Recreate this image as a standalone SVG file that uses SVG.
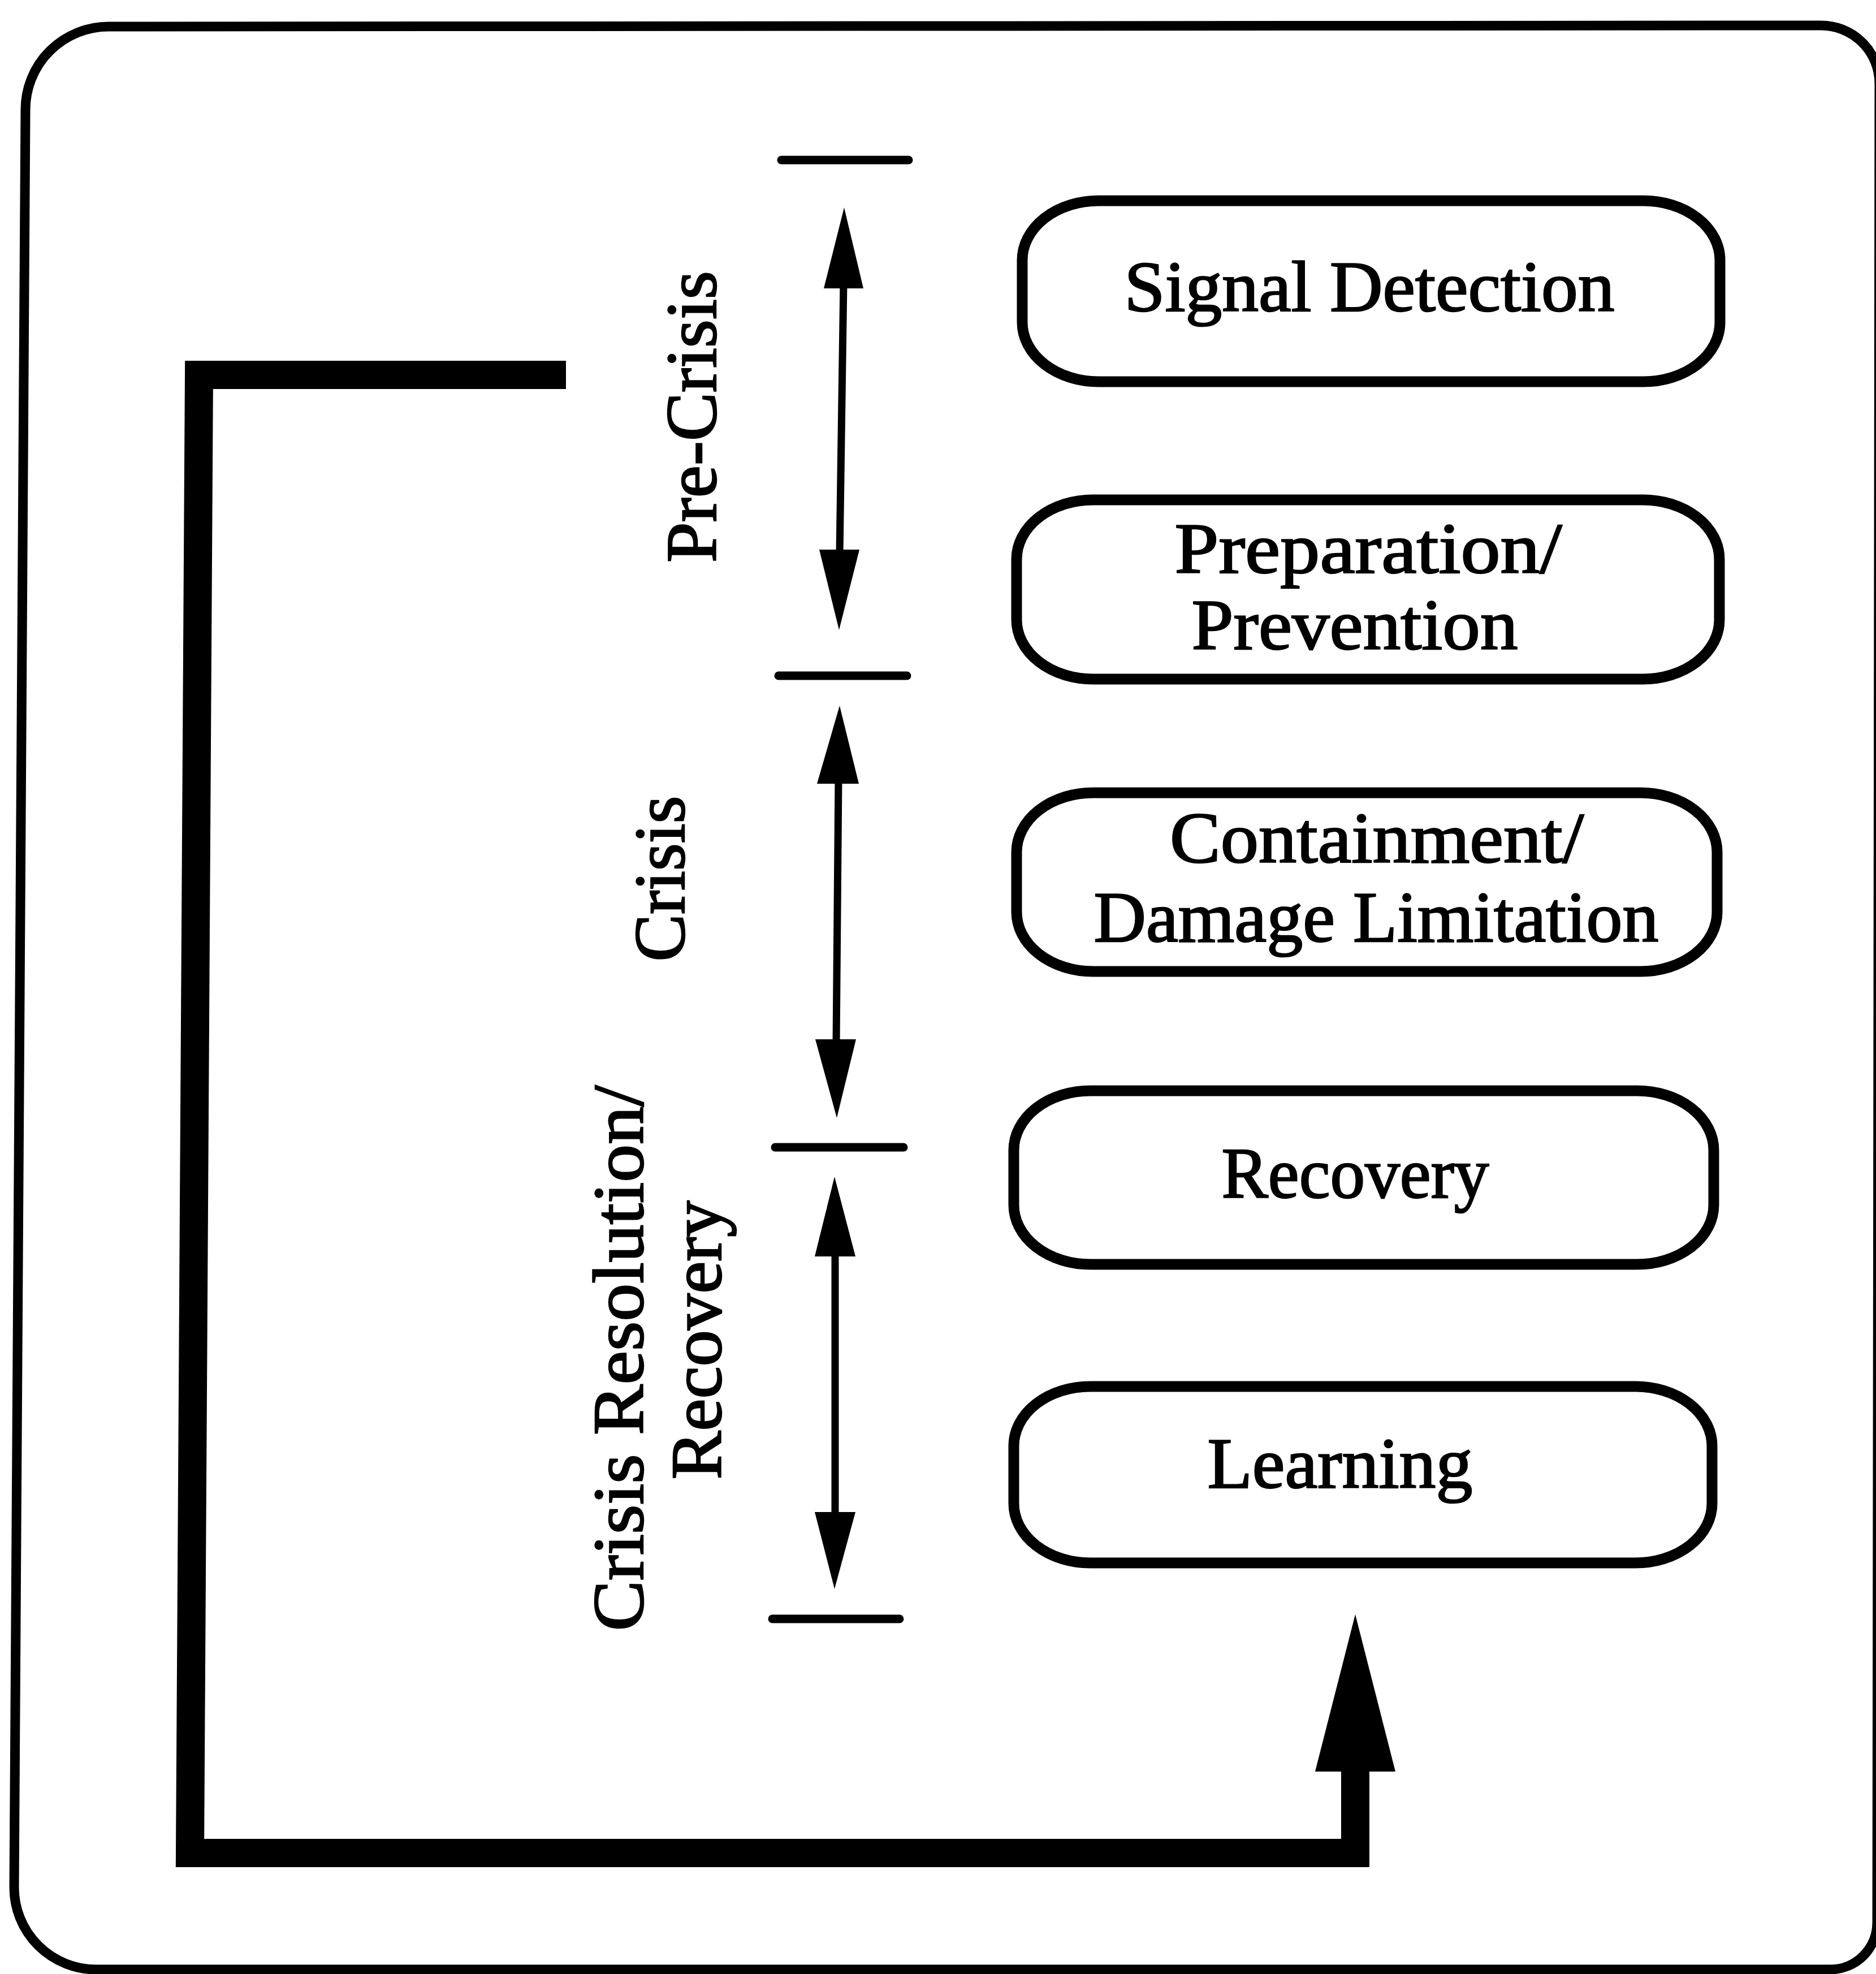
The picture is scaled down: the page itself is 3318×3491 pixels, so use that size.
<svg xmlns="http://www.w3.org/2000/svg" width="3318" height="3491" viewBox="0 0 3318 3491">
  <style>
    .frame { fill: none; stroke: #000; stroke-width: 17; }
    .box { fill: #fff; stroke: #000; stroke-width: 19; }
    .lbl { font-family: "Liberation Serif", "Times New Roman", serif; font-size: 126px; fill: #000; stroke: #000; stroke-width: 2.5; text-anchor: middle; }
    .tick { stroke: #000; stroke-width: 15; stroke-linecap: round; }
    .shaft { stroke: #000; stroke-width: 13; fill: none; }
    .head { fill: #000; }
    .loop { fill: none; stroke: #000; stroke-width: 50; stroke-linejoin: miter; stroke-linecap: butt; }
  </style>

  <rect width="3318" height="3491" fill="#fff"/>

  <!-- outer border -->
  <path class="frame" d="M 192,47 L 3221,45 A 103,103 0 0 1 3324,148 L 3320,3400 A 83,83 0 0 1 3237,3483 L 170,3483 A 145,145 0 0 1 25,3338 L 45,194 A 147,147 0 0 1 192,47 Z"/>

  <!-- phase nodes -->
  <g id="node-signal-detection">
    <rect class="box" x="1808" y="355" width="1234" height="320" rx="135" ry="105"/>
    <text class="lbl" x="2422" y="550" textLength="867" lengthAdjust="spacingAndGlyphs">Signal Detection</text>
  </g>
  <g id="node-preparation">
    <rect class="box" x="1798" y="884" width="1243" height="317" rx="135" ry="105"/>
    <text class="lbl" x="2420" y="1013" textLength="685" lengthAdjust="spacingAndGlyphs">Preparation/</text>
    <text class="lbl" x="2396" y="1148" textLength="577" lengthAdjust="spacingAndGlyphs">Prevention</text>
  </g>
  <g id="node-containment">
    <rect class="box" x="1798" y="1402" width="1239" height="316" rx="135" ry="105"/>
    <text class="lbl" x="2435" y="1525" textLength="732" lengthAdjust="spacingAndGlyphs">Containment/</text>
    <text class="lbl" x="2434" y="1665" textLength="999" lengthAdjust="spacingAndGlyphs">Damage Limitation</text>
  </g>
  <g id="node-recovery">
    <rect class="box" x="1793" y="1929" width="1238" height="307" rx="135" ry="105"/>
    <text class="lbl" x="2397" y="2118" textLength="473" lengthAdjust="spacingAndGlyphs">Recovery</text>
  </g>
  <g id="node-learning">
    <rect class="box" x="1793" y="2452" width="1235" height="312" rx="135" ry="105"/>
    <text class="lbl" x="2370" y="2631" textLength="469" lengthAdjust="spacingAndGlyphs">Learning</text>
  </g>

  <!-- stage labels (vertical) -->
  <g id="stage-pre-crisis">
    <text class="lbl" transform="translate(1266,737) rotate(-90)" textLength="516" lengthAdjust="spacingAndGlyphs">Pre-Crisis</text>
  </g>
  <g id="stage-crisis">
    <text class="lbl" transform="translate(1210,1554) rotate(-90)" textLength="293" lengthAdjust="spacingAndGlyphs">Crisis</text>
  </g>
  <g id="stage-resolution">
    <text class="lbl" transform="translate(1137,2402) rotate(-90)" textLength="965" lengthAdjust="spacingAndGlyphs">Crisis Resolution/</text>
    <text class="lbl" transform="translate(1275,2370) rotate(-90)" textLength="493" lengthAdjust="spacingAndGlyphs">Recovery</text>
  </g>

  <!-- stage boundaries and spans -->
  <g id="connectors">
    <line class="tick" x1="1382" y1="283" x2="1607" y2="283"/>
    <line class="tick" x1="1377" y1="1195" x2="1604" y2="1195"/>
    <line class="tick" x1="1371" y1="2029" x2="1598" y2="2029"/>
    <line class="tick" x1="1366" y1="2863" x2="1591" y2="2863"/>

    <!-- pre-crisis span -->
    <line class="shaft" x1="1492" y1="500" x2="1485" y2="980"/>
    <polygon class="head" points="1493,367 1527,510 1457,510"/>
    <polygon class="head" points="1484,1114 1449,972 1520,972"/>

    <!-- crisis span -->
    <line class="shaft" x1="1483" y1="1378" x2="1479" y2="1846"/>
    <polygon class="head" points="1485,1248 1519,1386 1445,1386"/>
    <polygon class="head" points="1480,1977 1442,1838 1514,1838"/>

    <!-- resolution span -->
    <line class="shaft" x1="1477" y1="2214" x2="1477" y2="2682"/>
    <polygon class="head" points="1476,2081 1513,2222 1441,2222"/>
    <polygon class="head" points="1476,2810 1441,2674 1513,2674"/>

    <!-- learning feedback loop -->
    <path class="loop" d="M 1001,663 L 352,663 L 336,3277 L 2397,3277 L 2397,3120"/>
    <polygon class="head" points="2397,2855 2468,3133 2326,3133"/>
  </g>
</svg>
